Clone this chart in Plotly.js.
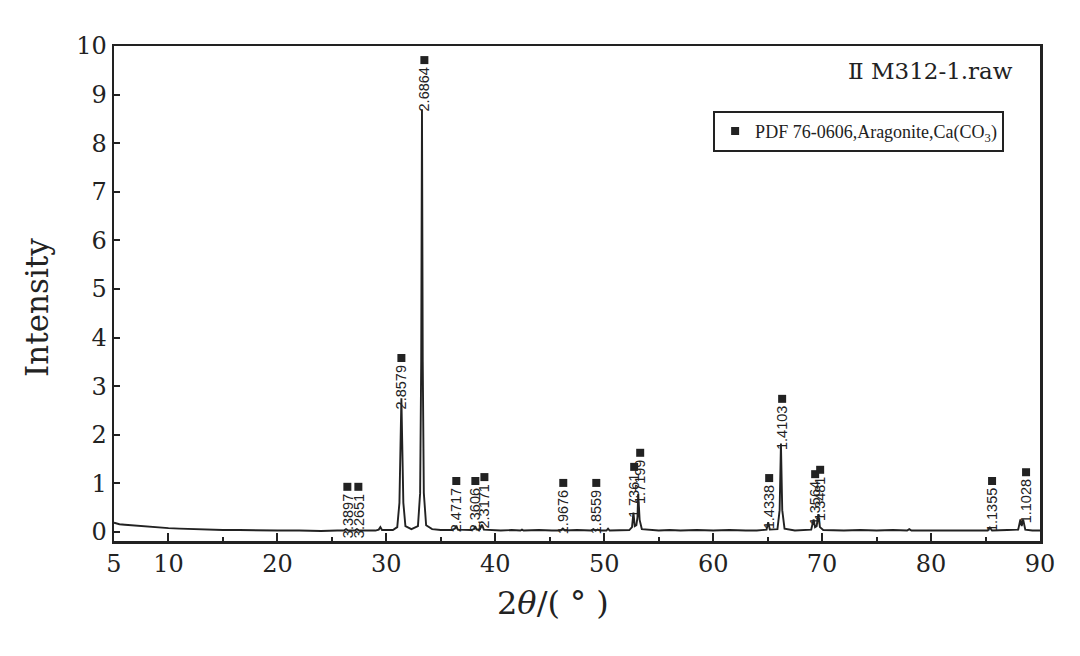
<!DOCTYPE html>
<html>
<head>
<meta charset="utf-8">
<script src="https://cdn.plot.ly/plotly-3.0.1.min.js"></script>
<style>html,body{margin:0;padding:0;background:#fff;}#chart{width:1080px;height:656px;}</style>
</head>
<body>
<div id="chart"></div>
<script>
// XRD pattern: 2θ (deg) and intensity
const twoTheta = [5.0,5.5,6.0,7.0,8.0,9.0,10.0,11.0,12.0,13.0,14.0,15.0,16.5,18.0,20.0,22.0,24.0,25.5,
  26.1,26.3,26.5,27.1,27.3,27.5,29.0,29.3,29.45,29.6,30.6,31.0,31.2,31.3,31.38,31.46,31.56,31.75,32.3,
  32.9,33.1,33.2,33.27,33.34,33.44,33.65,34.2,35.0,36.0,36.3,36.42,36.55,37.8,38.05,38.15,38.27,38.6,38.78,38.95,
  40.5,41.5,42.3,42.45,42.6,44.0,45.2,46.0,46.2,46.4,47.5,48.8,49.0,49.2,49.4,49.6,50.2,50.35,50.5,51.5,52.3,52.55,52.68,52.8,52.95,
  53.05,53.12,53.25,53.45,55.0,56.0,57.0,58.5,60.0,61.5,63.0,64.0,64.9,65.05,65.2,65.9,66.1,66.22,66.34,66.55,67.5,69.0,69.22,
  69.35,69.5,69.65,69.8,70.1,72.0,73.5,75.0,76.5,77.8,78.0,78.2,80.0,81.5,83.0,85.2,85.4,85.6,87.0,88.0,88.2,88.32,88.45,88.65,89.3,90.0];
const intensity = [0.19,0.16,0.15,0.13,0.11,0.09,0.08,0.07,0.06,0.05,0.05,0.04,0.04,0.03,0.03,0.03,0.02,0.03,
  0.03,0.06,0.03,0.03,0.06,0.03,0.03,0.05,0.10,0.04,0.04,0.10,0.60,1.80,2.75,1.80,0.60,0.12,0.06,
  0.12,0.80,3.50,8.70,3.50,0.80,0.14,0.06,0.04,0.04,0.07,0.13,0.05,0.04,0.06,0.12,0.05,0.06,0.15,0.05,
  0.03,0.04,0.03,0.05,0.03,0.04,0.03,0.03,0.07,0.03,0.04,0.03,0.06,0.03,0.05,0.03,0.03,0.07,0.03,0.04,0.04,0.10,0.40,0.12,0.14,
  0.30,0.78,0.25,0.06,0.03,0.04,0.03,0.04,0.03,0.04,0.03,0.03,0.05,0.20,0.05,0.06,0.45,1.82,0.45,0.07,0.03,0.05,0.26,
  0.10,0.12,0.37,0.10,0.04,0.03,0.04,0.03,0.04,0.03,0.06,0.03,0.03,0.04,0.03,0.03,0.09,0.03,0.04,0.05,0.26,0.12,0.26,0.05,0.03,0.03];

// Phase-match markers (PDF 76-0606): d-spacing labels, 2θ and marker height
const peakD = ["3.3897","3.2651","2.8579","2.6864","2.4717","2.3606","2.3171","1.9676","1.8559",
  "1.7361","1.7199","1.4338","1.4103","1.3564","1.3481","1.1355","1.1028"];
const peakX = [26.42,27.43,31.38,33.49,36.42,38.17,39.0,46.24,49.27,52.75,53.3,65.14,66.33,69.36,69.82,85.6,88.72];
const markY = [0.93,0.93,3.58,9.71,1.05,1.05,1.13,1.01,1.01,1.34,1.63,1.11,2.74,1.19,1.28,1.05,1.23];

const xTicks = [5,10,20,30,40,50,60,70,80,90];
const yTicks = [0,1,2,3,4,5,6,7,8,9,10];

const ink = '#222';
const serif = 'DejaVu Serif, serif';

const traces = [
  {x: twoTheta, y: intensity, type: 'scatter', mode: 'lines',
   line: {color: ink, width: 1.9}, showlegend: false, hoverinfo: 'skip'},
  {x: peakX, y: markY, type: 'scatter', mode: 'markers',
   marker: {symbol: 'square', size: 8, color: ink},
   name: 'PDF 76-0606,Aragonite,Ca(CO<sub>3</sub>)', showlegend: true}
];

const annotations = peakX.map((px, i) => ({
  x: px, y: markY[i], xref: 'x', yref: 'y', text: peakD[i], showarrow: false,
  textangle: -90, xanchor: 'center', yanchor: 'top', yshift: -5,
  font: {family: 'Liberation Sans, Arial, sans-serif', size: 14.5, color: ink}
}));
annotations.push(
  {xref: 'paper', yref: 'paper', x: -0.083, y: 0.471, text: 'Intensity', textangle: -90,
   showarrow: false, xanchor: 'center', yanchor: 'middle', font: {family: serif, size: 31, color: ink}},
  {xref: 'paper', yref: 'paper', x: 0.474, y: -0.125, text: '2<i>θ</i>/( ° )',
   showarrow: false, xanchor: 'center', yanchor: 'middle', font: {family: serif, size: 32, color: ink}},
  {xref: 'paper', yref: 'paper', x: 0.973, y: 0.9495, text: 'Ⅱ M312-1.raw',
   showarrow: false, xanchor: 'right', yanchor: 'middle', font: {family: serif, size: 23, color: ink}}
);

const layout = {
  width: 1080, height: 656,
  margin: {l: 114, r: 40, t: 46, b: 115},
  paper_bgcolor: '#fff', plot_bgcolor: '#fff',
  xaxis: {range: [5, 90], tickvals: xTicks, ticktext: xTicks.map(String),
    ticks: 'inside', ticklen: 8, tickwidth: 2, tickcolor: ink,
    minor: {tickvals: [15,25,35,45,55,65,75,85], ticks: 'inside', ticklen: 4, tickwidth: 2, tickcolor: ink},
    showline: true, linewidth: 2.5, linecolor: ink, mirror: true, showgrid: false, zeroline: false,
    tickfont: {family: serif, size: 24, color: ink}},
  yaxis: {range: [-0.185, 10], tickvals: yTicks, ticktext: yTicks.map(String),
    ticks: 'inside', ticklen: 6, tickwidth: 2, tickcolor: ink,
    showline: true, linewidth: 2.5, linecolor: ink, mirror: true, showgrid: false, zeroline: false,
    tickfont: {family: serif, size: 24, color: ink}},
  showlegend: true,
  legend: {x: 0.647, y: 0.869, xanchor: 'left', yanchor: 'top', bgcolor: '#fff',
    bordercolor: ink, borderwidth: 2, itemwidth: 30,
    font: {family: 'Liberation Serif, serif', size: 18, color: ink}},
  annotations: annotations
};

Plotly.newPlot('chart', traces, layout, {staticPlot: true});
</script>
</body>
</html>
